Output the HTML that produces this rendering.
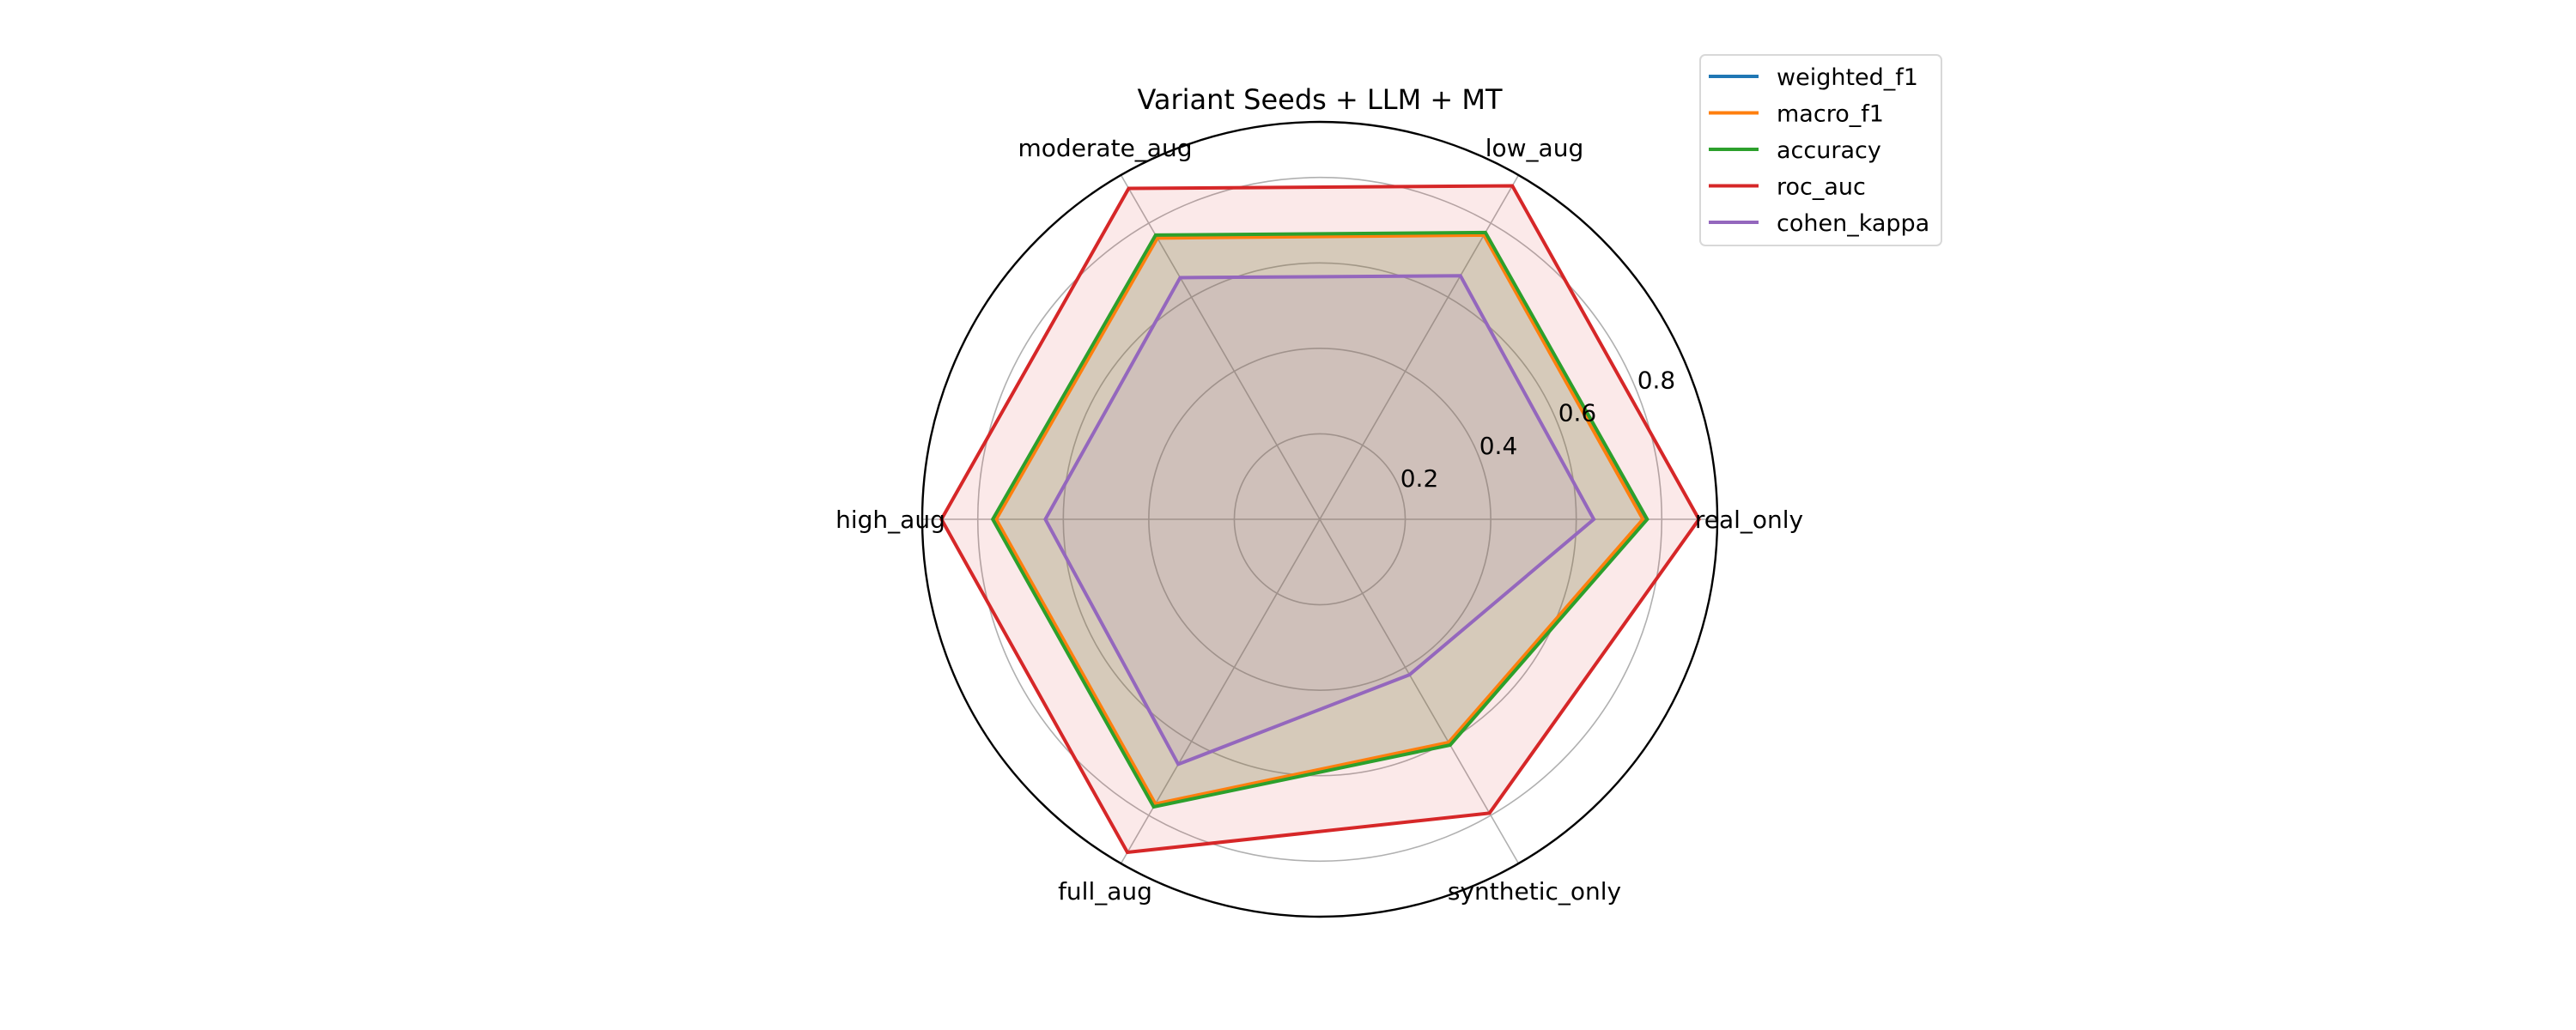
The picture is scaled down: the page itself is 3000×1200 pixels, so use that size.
<!DOCTYPE html>
<html><head><meta charset="utf-8"><style>
html,body{margin:0;padding:0;background:#fff;width:3000px;height:1200px;overflow:hidden}
svg text{font-family:"DejaVu Sans","Liberation Sans",sans-serif;fill:#000}
</style></head><body>
<svg id="chart" width="3000" height="1200" viewBox="0 0 3000 1200" xmlns="http://www.w3.org/2000/svg">
<rect width="3000" height="1200" fill="#fff"/>
<text x="1537" y="127" font-size="32" text-anchor="middle">Variant Seeds + LLM + MT</text>
<g id="grid"></g><g id="series"></g><g id="labels"></g>
<g id="legend"></g>
</svg>
<script>
const categories = ["real_only","low_aug","moderate_aug","high_aug","full_aug","synthetic_only"];
const seriesNames = ["weighted_f1","macro_f1","accuracy","roc_auc","cohen_kappa"];
const weightedF1 = [0.764,0.773,0.766,0.763,0.775,0.608];
const macroF1    = [0.756,0.768,0.760,0.757,0.769,0.603];
const accuracy   = [0.766,0.775,0.768,0.765,0.777,0.610];
const rocAuc     = [0.887,0.901,0.894,0.885,0.900,0.794];
const cohenKappa = [0.641,0.658,0.653,0.642,0.662,0.420];
const radialTicks = [0.2,0.4,0.6,0.8];
const rMax = 0.93;

const NS="http://www.w3.org/2000/svg";
const cx=1537, cy=605, R=463;
const colors=["#1f77b4","#ff7f0e","#2ca02c","#d62728","#9467bd"];
const allSeries=[weightedF1,macroF1,accuracy,rocAuc,cohenKappa];
function rScale(v){return v/rMax*R;}
function ang(i){return i*2*Math.PI/categories.length;}
function pt(i,v){const r=rScale(v),a=ang(i);return [cx+r*Math.cos(a), cy-r*Math.sin(a)];}
function mk(tag,attrs,parent){const e=document.createElementNS(NS,tag);for(const k in attrs)e.setAttribute(k,attrs[k]);parent.appendChild(e);return e;}

const grid=document.getElementById('grid');
radialTicks.forEach(t=>{
  const c=mk('circle',{cx:cx,cy:cy,r:rScale(t),fill:'none',stroke:'#b0b0b0','stroke-width':1.6},grid);
  
  
});
categories.forEach((c,i)=>{
  const p=pt(i,rMax);
  const l=mk('line',{x1:cx,y1:cy,x2:p[0],y2:p[1],stroke:'#b0b0b0','stroke-width':1.6},grid);
  
  
});

const sg=document.getElementById('series');
allSeries.forEach((vals,s)=>{
  const pts=vals.map((v,i)=>pt(i,v).join(',')).join(' ');
  const f=mk('polygon',{points:pts,fill:colors[s],'fill-opacity':0.1,stroke:'none'},sg);
  
  
});
allSeries.forEach((vals,s)=>{
  const pts=vals.map((v,i)=>pt(i,v).join(',')).join(' ');
  const l=mk('polygon',{points:pts,fill:'none',stroke:colors[s],'stroke-width':4,'stroke-linejoin':'miter'},sg);
  
  
});
const outer=mk('circle',{cx:cx,cy:cy,r:R,fill:'none',stroke:'#000','stroke-width':2.4},sg);



const lg=document.getElementById('labels');
categories.forEach((c,i)=>{
  const a=ang(i);
  const t=mk('text',{x:cx+500*Math.cos(a),y:cy-500*Math.sin(a)+10,'font-size':28,'text-anchor':'middle'},lg);
  t.textContent=c;
  
  
});
radialTicks.forEach(tk=>{
  const a=22.5*Math.PI/180, r=rScale(tk)+26;
  const t=mk('text',{x:cx+r*Math.cos(a),y:cy-r*Math.sin(a)+10,'font-size':28,'text-anchor':'middle'},lg);
  t.textContent=tk.toFixed(1);
  
  
});

const leg=document.getElementById('legend');
const box=mk('rect',{x:1980,y:64,width:281,height:222,rx:6,fill:'#fff','fill-opacity':0.8,stroke:'#d8d8d8','stroke-width':2},leg);


seriesNames.forEach((n,s)=>{
  const y=89+s*42.5;
  const l=mk('line',{x1:1990,y1:y,x2:2048,y2:y,stroke:colors[s],'stroke-width':4},leg);
  
  
  const t=mk('text',{x:2069,y:y+10,'font-size':27},leg);
  t.textContent=n;
  
  
});
</script>
</body></html>
